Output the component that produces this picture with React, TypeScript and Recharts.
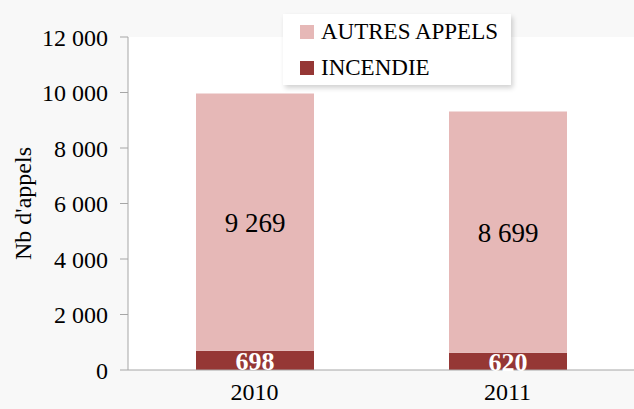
import { BarChart, Bar, XAxis, YAxis, CartesianGrid, LabelList } from 'recharts'

const years = ['2010', '2011']
const incendie = [698, 620]
const autres = [9269, 8699]
const yTicks = [0, 2000, 4000, 6000, 8000, 10000, 12000]
const seriesNames = ['AUTRES APPELS', 'INCENDIE']
const seriesColors = ['#e6b8b7', '#953735']

const data = years.map((y, i) => ({ year: y, incendie: incendie[i], autres: autres[i] }))

const font = '"Liberation Serif", "DejaVu Serif", serif'
const fmt = (v: number) => String(v).replace(/\B(?=(\d{3})+(?!\d))/g, ' ')

const LegendBox = () => (
  <div style={{ position: 'absolute', left: 283, top: 14, width: 228, height: 71, boxSizing: 'border-box', background: '#fff', boxShadow: '2px 3px 5px rgba(0,0,0,0.18)', padding: '0 0 0 17px', fontFamily: font, fontSize: 23, color: '#000' }}>
    {seriesNames.map((t, i) => (
      <div key={t} style={{ display: 'flex', alignItems: 'center', height: 36 }}>
        <span style={{ width: 14, height: 14, background: seriesColors[i], marginRight: 7 }} />
        {t}
      </div>
    ))}
  </div>
)

export default function App() {
  return (
    <div style={{ position: 'fixed', left: 0, top: 0, width: 634, height: 409, background: '#f8f8f8' }}>
      <BarChart width={634} height={409} data={data} margin={{ top: 37, right: 0, bottom: 0, left: 0 }}>
        <CartesianGrid horizontal={false} vertical={false} fill="#fff" stroke="none" />
        <XAxis dataKey="year" height={39} stroke="#a6a6a6" tickLine={false} tickSize={8} tick={{ fill: '#000', fontSize: 24, fontFamily: font }} tickMargin={5} />
        <YAxis width={128} domain={[0, 12000]} ticks={yTicks} tickFormatter={fmt} stroke="#a6a6a6" tickSize={8} tickMargin={12}
          tick={{ fill: '#000', fontSize: 24, fontFamily: font }}
          label={{ value: "Nb d'appels", angle: -90, position: 'insideLeft', offset: 22, style: { fill: '#000', fontSize: 24, fontFamily: font, textAnchor: 'middle' } }} />
        <Bar dataKey="incendie" stackId="a" fill={seriesColors[1]} barSize={118} isAnimationActive={false}>
          <LabelList dataKey="incendie" position="center" fill="#fff" fontSize={26} fontWeight="bold" fontFamily={font} />
        </Bar>
        <Bar dataKey="autres" stackId="a" fill={seriesColors[0]} barSize={118} isAnimationActive={false}>
          <LabelList dataKey="autres" position="center" formatter={(v: any) => fmt(Number(v))} fill="#000" fontSize={27} fontFamily={font} />
        </Bar>
      </BarChart>
      <LegendBox />
    </div>
  )
}
